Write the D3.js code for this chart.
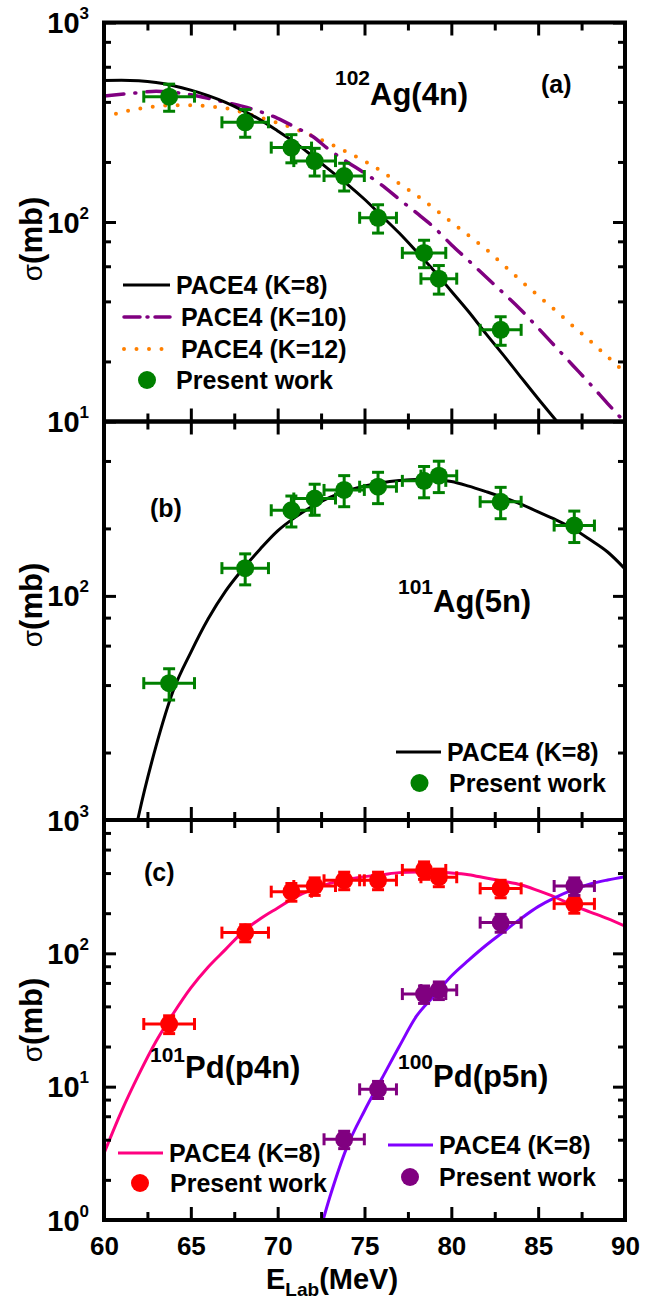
<!DOCTYPE html>
<html lang="en">
<head>
<meta charset="UTF-8">
<title>Excitation functions</title>
<script src="https://cdn.jsdelivr.net/npm/d3@7"></script>
<style>
    body { margin: 0; background: #fff; }
    svg text { font-family: "Liberation Sans", Arial, sans-serif; font-weight: bold; fill: #000; }
</style>
</head>
<body>
<div id="chart"></div>
<script>
    // ---------- measured points ----------
    var energy = [63.75, 68.13, 70.79, 72.13, 73.83, 75.78, 78.43, 79.28, 82.84, 87.08];
    var energyErr = [1.46, 1.34, 1.16, 1.2, 1.16, 1.06, 1.25, 1.03, 1.18, 1.16];

    var ag102 = [425, 316, 236, 202, 170, 105, 70, 52, 28.8];
    var ag102Err = [66, 50, 38, 32, 27, 17, 11, 8.5, 4.7];

    var ag101 = [40.8, 133, 241, 272, 297, 307, 326, 344, 263, 206];
    var ag101Err = [6.5, 21, 38, 43, 47, 49, 52, 55, 42, 33];

    var pd101 = [29.5, 143, 290, 320, 353, 353, 422, 372, 307, 235];
    var pd101Err = [4.5, 21, 44, 48, 53, 53, 63, 56, 46, 35];

    var pd100Energy = [73.83, 75.78, 78.43, 79.28, 82.84, 87.08];
    var pd100EnergyErr = [1.16, 1.06, 1.25, 1.03, 1.18, 1.16];
    var pd100 = [4.03, 9.55, 49.5, 53, 170, 320];
    var pd100Err = [0.6, 1.4, 7.4, 8, 26, 48];

    // ---------- PACE4 curves (one value per MeV, 60..90) ----------
    var curveE = [60, 61, 62, 63, 64, 65, 66, 67, 68, 69, 70, 71, 72, 73, 74, 75,
        76, 77, 78, 79, 80, 81, 82, 83, 84, 85, 86, 87, 88, 89, 90];
    var ag102K8 = [512, 513, 510, 500, 482, 458, 430, 398, 362, 325, 286, 250, 214, 182, 155, 130,
        107, 88, 71, 57, 45, 35.5, 27.5, 21.5, 16.7, 13, 10.2, 8, 6.3, 5, 3.9];
    var ag102K10 = [428, 437, 445, 452, 447, 434, 417, 398, 380, 357, 331, 299, 269, 229, 200, 176,
        153, 130, 111, 94, 77, 64, 53, 44, 36.3, 29.4, 23.7, 19.1, 15.4, 12.3, 9.9];
    var ag102K12 = [334, 355, 370, 380, 385, 385, 380, 372, 354, 334, 314, 293, 270, 247, 224, 202,
        179, 156, 136, 117, 100, 85.5, 73, 61, 50.8, 42.7, 36, 30.1, 25.3, 21.1, 17.6];
    var ag101K8 = [null, 4.2, 10.5, 21.4, 38, 56, 79, 105, 132, 162, 195, 224, 251, 275, 295, 309,
        320, 327, 331, 331, 324, 309, 292, 275, 257, 237, 219, 200, 178, 157, 132];
    var pd101K8 = [3.16, 6.5, 12.3, 21.9, 35.5, 55, 79, 107, 145, 182, 219, 263, 302, 335, 359, 376,
        389, 403, 407, 407, 401, 389, 367, 347, 327, 295, 263, 229, 204, 182, 160];
    var pd100K8 = [null, null, null, null, null, null, null, null, null, null, null, 0.2, 0.52, 1.48, 3.55, 6.6,
        11.5, 20, 33.9, 47.9, 67.6, 89, 115, 145, 182, 224, 263, 299, 331, 355, 376];

    // ---------- tick labels ----------
    var xTickLabels = [60, 65, 70, 75, 80, 85, 90];
    var yExponents = [[3, 2, 1], [2], [3, 2, 1, 0]];

    // ---------- layout ----------
    var width = 664, height = 1301;
    var left = 104, right = 625;
    var panels = [
        { top: 22.5, bottom: 421.5, domain: [10, 1000], sigmaY: 239 },
        { top: 421.5, bottom: 820, domain: [10, 600], sigmaY: 605 },
        { top: 820, bottom: 1220, domain: [1, 1000], sigmaY: 1020 }
    ];

    var svg = d3.select("#chart")
        .append("svg")
        .attr("width", width)
        .attr("height", height);
    svg.append("rect").attr("width", width).attr("height", height).attr("fill", "#fff");

    var x = d3.scaleLinear().domain([60, 90]).range([left, right]);

    panels.forEach(function (p, i) {
        p.y = d3.scaleLog().domain(p.domain).range([p.bottom, p.top]);
        p.g = svg.append("g");
        svg.append("clipPath").attr("id", "clip" + i)
            .append("rect")
            .attr("x", left).attr("y", p.top)
            .attr("width", right - left).attr("height", p.bottom - p.top);
        p.plot = p.g.append("g").attr("clip-path", "url(#clip" + i + ")");
    });

    function drawCurve(p, values, color, w, dash) {
        var line = d3.line()
            .defined(function (d) { return d[1] != null; })
            .x(function (d) { return x(d[0]); })
            .y(function (d) { return p.y(d[1]); })
            .curve(d3.curveMonotoneX);
        var path = p.plot.append("path")
            .datum(curveE.map(function (e, k) { return [e, values[k]]; }))
            .attr("d", line)
            .attr("fill", "none")
            .attr("stroke", color)
            .attr("stroke-width", w);
        if (dash) {
            path.attr("stroke-dasharray", dash).attr("stroke-linecap", "round");
        }
    }

    function drawPoints(p, xs, xe, ys, ye, color) {
        var data = xs.map(function (e, k) { return { e: e, de: xe[k], v: ys[k], dv: ye[k] }; });
        var g = p.g.append("g").attr("stroke", color).attr("stroke-width", 3);
        data.forEach(function (d) {
            var cx = x(d.e), cy = p.y(d.v);
            var x0 = x(d.e - d.de), x1 = x(d.e + d.de);
            var y0 = p.y(d.v - d.dv), y1 = p.y(d.v + d.dv);
            g.append("line").attr("x1", x0).attr("x2", x1).attr("y1", cy).attr("y2", cy);
            g.append("line").attr("x1", x0).attr("x2", x0).attr("y1", cy - 6).attr("y2", cy + 6);
            g.append("line").attr("x1", x1).attr("x2", x1).attr("y1", cy - 6).attr("y2", cy + 6);
            g.append("line").attr("x1", cx).attr("x2", cx).attr("y1", y0).attr("y2", y1);
            g.append("line").attr("x1", cx - 6).attr("x2", cx + 6).attr("y1", y0).attr("y2", y0);
            g.append("line").attr("x1", cx - 6).attr("x2", cx + 6).attr("y1", y1).attr("y2", y1);
        });
        p.g.append("g").selectAll("circle")
            .data(data)
            .enter()
            .append("circle")
            .attr("cx", function (d) { return x(d.e); })
            .attr("cy", function (d) { return p.y(d.v); })
            .attr("r", 9)
            .attr("fill", color);
    }

    // panel (a)
    drawCurve(panels[0], ag102K12, "#ff8000", 4, "0,12.5");
    drawCurve(panels[0], ag102K10, "#800080", 3.5, "20,11,1,11");
    drawCurve(panels[0], ag102K8, "#000", 3);
    drawPoints(panels[0], energy.slice(0, 9), energyErr, ag102, ag102Err, "#008000");
    // panel (b)
    drawCurve(panels[1], ag101K8, "#000", 3);
    drawPoints(panels[1], energy, energyErr, ag101, ag101Err, "#008000");
    // panel (c)
    drawCurve(panels[2], pd101K8, "#ff0080", 3);
    drawCurve(panels[2], pd100K8, "#8000ff", 3);
    drawPoints(panels[2], energy, energyErr, pd101, pd101Err, "#ff0000");
    drawPoints(panels[2], pd100Energy, pd100EnergyErr, pd100, pd100Err, "#800080");

    // ---------- frames and ticks ----------
    var xMinor = [62.5, 67.5, 72.5, 77.5, 82.5, 87.5];
    panels.forEach(function (p, i) {
        var minorY = [];
        var lo = Math.log10(p.domain[0]), hi = Math.log10(p.domain[1]);
        for (var k = Math.floor(lo); k < Math.ceil(hi); k++) {
            [2, 4, 6, 8].forEach(function (m) {
                var v = m * Math.pow(10, k);
                if (v > p.domain[0] && v < p.domain[1]) minorY.push(v);
            });
        }
        var majorY = p.y.ticks().filter(function (v) {
            return Math.abs(Math.log10(v) - Math.round(Math.log10(v))) < 1e-9;
        });

        var axes = [
            [d3.axisBottom(x).tickValues(xTickLabels).tickSize(-13), "translate(0," + p.bottom + ")"],
            [d3.axisBottom(x).tickValues(xMinor).tickSize(-8), "translate(0," + p.bottom + ")"],
            [d3.axisTop(x).tickValues(xTickLabels).tickSize(-13), "translate(0," + p.top + ")"],
            [d3.axisTop(x).tickValues(xMinor).tickSize(-8), "translate(0," + p.top + ")"],
            [d3.axisLeft(p.y).tickValues(majorY).tickSize(-12), "translate(" + left + ",0)"],
            [d3.axisLeft(p.y).tickValues(minorY).tickSize(-7), "translate(" + left + ",0)"],
            [d3.axisRight(p.y).tickValues(majorY).tickSize(-12), "translate(" + right + ",0)"],
            [d3.axisRight(p.y).tickValues(minorY).tickSize(-7), "translate(" + right + ",0)"]
        ];
        axes.forEach(function (a) {
            var ax = p.g.append("g")
                .attr("transform", a[1])
                .call(a[0].tickFormat(""));
            ax.select(".domain").remove();
            ax.selectAll(".tick line").attr("stroke", "#000").attr("stroke-width", 3);
        });

        p.g.append("rect")
            .attr("x", left).attr("y", p.top)
            .attr("width", right - left).attr("height", p.bottom - p.top)
            .attr("fill", "none")
            .attr("stroke", "#000")
            .attr("stroke-width", 4);

        // y tick labels 10^n
        yExponents[i].forEach(function (n) {
            var t = svg.append("text")
                .attr("x", 89)
                .attr("y", p.y(Math.pow(10, n)) + 10.5)
                .attr("text-anchor", "end");
            t.append("tspan").attr("font-size", 29).text("10");
            t.append("tspan").attr("font-size", 17).attr("dy", -14).text(n);
        });

        // y title
        var s = svg.append("text")
            .attr("transform", "translate(42," + p.sigmaY + ") rotate(-90)")
            .attr("text-anchor", "middle")
            .attr("font-size", 31);
        s.append("tspan").attr("font-weight", "normal").attr("font-size", 28).text("σ");
        s.append("tspan").text("(mb)");
    });

    // x tick labels
    var bottomAxis = svg.append("g")
        .attr("transform", "translate(0," + panels[2].bottom + ")")
        .call(d3.axisBottom(x).tickValues(xTickLabels).tickSize(0).tickPadding(17).tickFormat(d3.format("d")));
    bottomAxis.select(".domain").remove();
    bottomAxis.selectAll("text")
        .attr("font-size", 26)
        .attr("font-family", "Liberation Sans, Arial, sans-serif")
        .attr("font-weight", "bold")
        .attr("fill", "#000");

    // x title
    var xt = svg.append("text").attr("x", 266).attr("y", 1289).attr("font-size", 29);
    xt.append("tspan").text("E");
    xt.append("tspan").attr("font-size", 19).attr("dy", 7).text("Lab");
    xt.append("tspan").attr("dy", -7).text("(MeV)");

    // reaction labels
    function species(xPos, yPos, mass, rest, up) {
        var t = svg.append("text").attr("x", xPos).attr("y", yPos);
        t.append("tspan").attr("font-size", 21).attr("dy", -up).text(mass);
        t.append("tspan").attr("font-size", 31).attr("dy", up).text(rest);
    }
    species(335, 105, "102", "Ag(4n)", 20);
    species(398, 612, "101", "Ag(5n)", 18);
    species(150, 1078, "101", "Pd(p4n)", 16);
    species(398, 1087, "100", "Pd(p5n)", 18);

    svg.append("text").attr("x", 541).attr("y", 92.5).attr("font-size", 25).text("(a)");
    svg.append("text").attr("x", 150).attr("y", 517).attr("font-size", 25).text("(b)");
    svg.append("text").attr("x", 144).attr("y", 880.5).attr("font-size", 25).text("(c)");

    // ---------- legends ----------
    function legendLine(x0, x1, yPos, color, w, dash, label, tx) {
        var l = svg.append("line")
            .attr("x1", x0).attr("x2", x1).attr("y1", yPos).attr("y2", yPos)
            .attr("stroke", color).attr("stroke-width", w);
        if (dash) l.attr("stroke-dasharray", dash).attr("stroke-linecap", "round");
        svg.append("text").attr("x", tx).attr("y", yPos + 9).attr("font-size", 25).text(label);
    }
    function legendDot(cx, yPos, color, label, tx) {
        svg.append("circle").attr("cx", cx).attr("cy", yPos).attr("r", 9).attr("fill", color);
        svg.append("text").attr("x", tx).attr("y", yPos + 9).attr("font-size", 25).text(label);
    }
    legendLine(123, 170, 285, "#000", 3, null, "PACE4 (K=8)", 176);
    legendLine(124, 170, 317, "#800080", 3.5, "16,7,1,7", "PACE4 (K=10)", 181);
    legendLine(124, 162, 349, "#ff8000", 4, "0,12.5", "PACE4 (K=12)", 181);
    legendDot(147, 380, "#008000", "Present work", 176);

    legendLine(396, 441, 752, "#000", 3, null, "PACE4 (K=8)", 447);
    legendDot(419.5, 783, "#008000", "Present work", 449);

    legendLine(118, 163, 1153, "#ff0080", 3, null, "PACE4 (K=8)", 169);
    legendDot(140, 1183, "#ff0000", "Present work", 170);
    legendLine(388, 433, 1145, "#8000ff", 3, null, "PACE4 (K=8)", 439);
    legendDot(410, 1177, "#800080", "Present work", 439);
</script>
</body>
</html>
